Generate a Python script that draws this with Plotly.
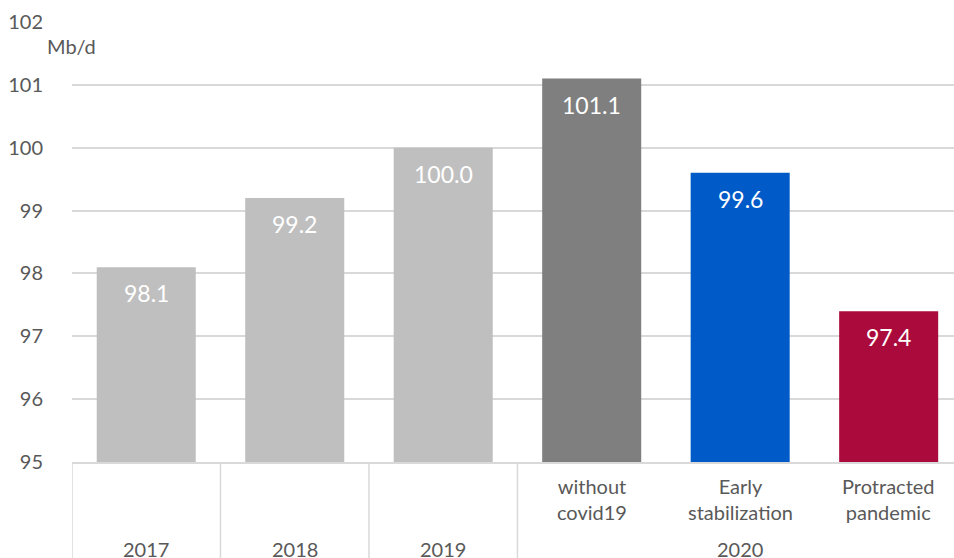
import plotly.graph_objects as go

# ---- data ----
years = ["2017", "2018", "2019", "2020", "2020", "2020"]
scenarios = ["", "", "", "without<br>covid19", "Early<br>stabilization", "Protracted<br>pandemic"]
values = [98.1, 99.2, 100.0, 101.1, 99.6, 97.4]
colors = ["#BFBFBF", "#BFBFBF", "#BFBFBF", "#7F7F7F", "#005BC8", "#AB0B3C"]
y_ticks = [95, 96, 97, 98, 99, 100, 101, 102]
unit = "Mb/d"

FONT = "Lato"
GREY = "#595959"
LINE = "#D9D9D9"

xs = list(range(len(values)))

fig = go.Figure()
fig.add_trace(go.Bar(
    x=xs, y=values, marker=dict(color=colors, line=dict(width=0)),
    width=0.667, hoverinfo="skip", showlegend=False,
))

annotations = []
# data labels
for x, v in zip(xs, values):
    annotations.append(dict(
        x=x, y=v, xref="x", yref="y", text=f"{v:.1f}", showarrow=False,
        yanchor="top", yshift=-10, font=dict(family=FONT, size=23, color="white"),
    ))

# scenario labels
for x, s in zip(xs, scenarios):
    if s:
        annotations.append(dict(
            x=x, y=-0.083, xref="x", yref="paper", text=s, showarrow=False,
            yanchor="middle", font=dict(family=FONT, size=20, color=GREY),
        ))

# year group labels and boundaries
groups = []
for i, yv in enumerate(years):
    if not groups or groups[-1][0] != yv:
        groups.append([yv, i, i])
    else:
        groups[-1][2] = i

shapes = []
for name, a, b in groups:
    annotations.append(dict(
        x=(a + b) / 2, y=-0.198, xref="x", yref="paper", text=name, showarrow=False,
        yanchor="middle", font=dict(family=FONT, size=20, color=GREY),
    ))
    shapes.append(dict(type="line", xref="x", yref="paper", x0=a - 0.5, x1=a - 0.5,
                       y0=0, y1=-0.25, line=dict(color=LINE, width=1.5)))

annotations.append(dict(
    x=-0.031, y=101.62, xref="paper", yref="y", text=unit, showarrow=False,
    xanchor="left", yanchor="middle", font=dict(family=FONT, size=20, color=GREY),
))

fig.update_layout(
    width=954, height=558,
    margin=dict(l=72, r=0, t=22, b=96),
    plot_bgcolor="white", paper_bgcolor="white",
    bargap=0.333,
    xaxis=dict(range=[-0.5, 5.44], showticklabels=False, showgrid=False, zeroline=False,
               showline=True, linecolor=LINE, linewidth=1.5, ticks=""),
    yaxis=dict(range=[95, 102], tickvals=y_ticks, showgrid=True, gridcolor=LINE, gridwidth=1.5,
               zeroline=False, ticks="", ticklabelstandoff=28,
               tickfont=dict(family=FONT, size=20, color=GREY)),
    annotations=annotations, shapes=shapes,
)

fig.write_html("out.html")
